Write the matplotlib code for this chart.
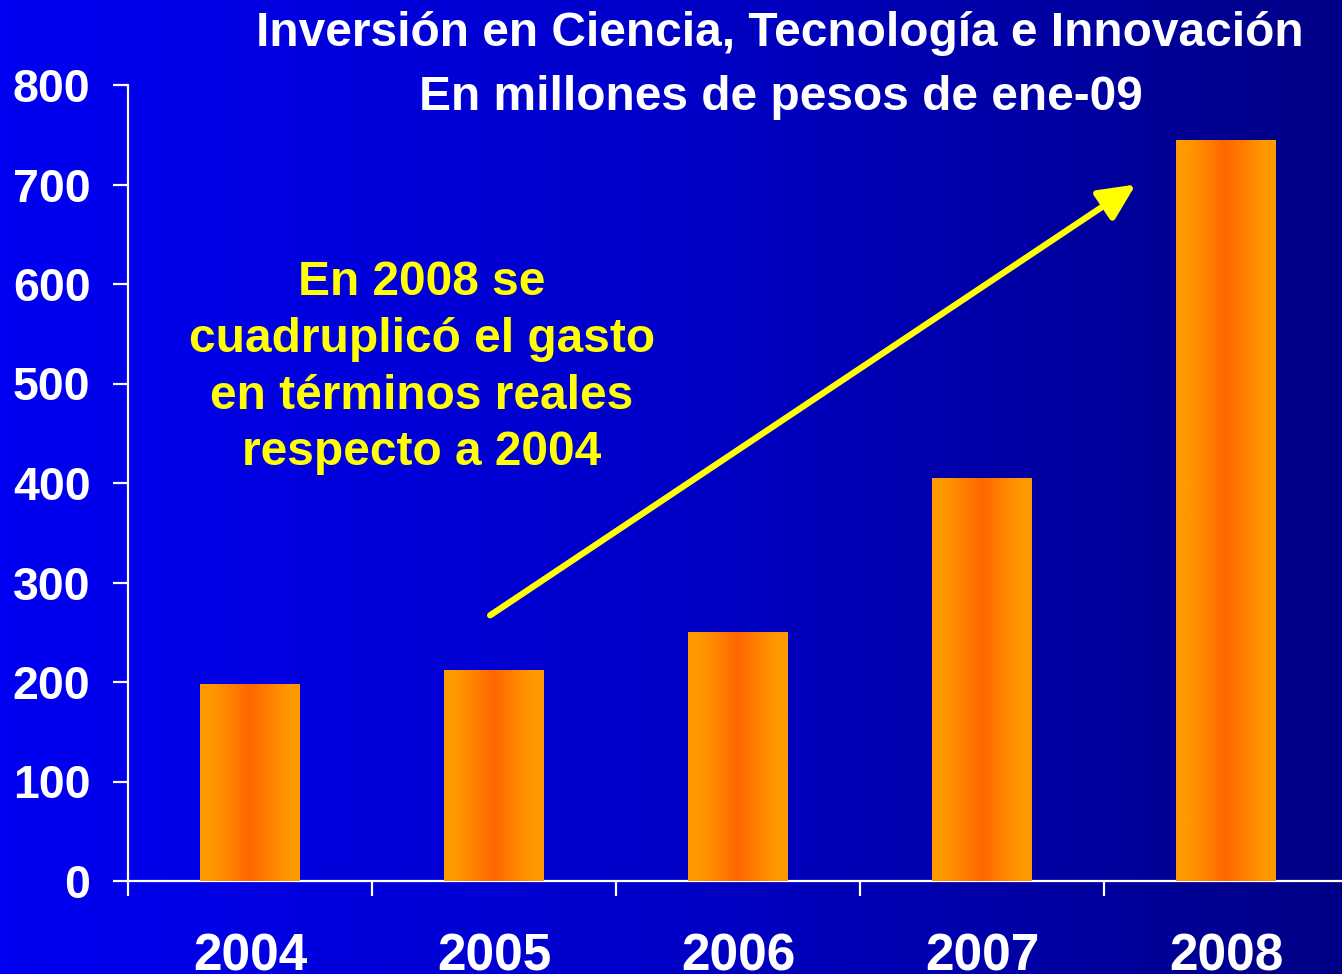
import numpy as np
import matplotlib
matplotlib.use("Agg")
import matplotlib.pyplot as plt
from matplotlib.colors import LinearSegmentedColormap

years = ["2004", "2005", "2006", "2007", "2008"]
values = [198, 212, 250, 405, 745]
yticks = [0, 100, 200, 300, 400, 500, 600, 700, 800]
title_lines = ["Inversión en Ciencia, Tecnología e Innovación", "En millones de pesos de ene-09"]
note = "En 2008 se\ncuadruplicó el gasto\nen términos reales\nrespecto a 2004"

plt.rcParams['font.family'] = ['Liberation Sans', 'DejaVu Sans']
plt.rcParams['font.weight'] = 'bold'

W, H = 1342, 974
fig = plt.figure(figsize=(W / 100, H / 100), dpi=100)

# background gradient
bg = fig.add_axes([0, 0, 1, 1], zorder=0)
bg_cmap = LinearSegmentedColormap.from_list("bg", ["#0000F2", "#0000C8", "#000086"])
bg.imshow(np.linspace(0, 1, 512)[None, :], aspect="auto", cmap=bg_cmap, extent=[0, 1, 0, 1])
bg.set_axis_off()

left = 128 / W
right = 1348 / W
bottom = 1 - 881 / H
top = 1 - 85 / H
ax = fig.add_axes([left, bottom, right - left, top - bottom], zorder=1)
ax.patch.set_alpha(0)

x = np.arange(len(years))
bars = ax.bar(x, values, width=100 / 244, color="#FF8800", zorder=2)

bar_cmap = LinearSegmentedColormap.from_list(
    "bar", [(0.0, "#FF9900"), (0.12, "#FF9900"), (0.5, "#FF6600"), (0.88, "#FF9900"), (1.0, "#FF9900")])
grad = np.linspace(0, 1, 256)[None, :]
for b in bars:
    im = ax.imshow(grad, aspect="auto", cmap=bar_cmap,
                   extent=[b.get_x(), b.get_x() + b.get_width(), 0, b.get_height()], zorder=3)
    im.set_clip_path(b)
ax.set_xlim(-0.5, len(years) - 0.5)
ax.set_ylim(0, 800)

for s in ["top", "right"]:
    ax.spines[s].set_visible(False)
for s in ["left", "bottom"]:
    ax.spines[s].set_color("white")
    ax.spines[s].set_linewidth(1.6)

ax.set_yticks(yticks)
ax.set_yticklabels([str(v) for v in yticks], fontsize=33.5, fontweight="bold", color="white")
ax.tick_params(axis="y", direction="out", length=11, width=1.6, color="white", pad=16)

ax.set_xticks(np.arange(-0.5, len(years) - 0.4, 1.0))
ax.set_xticklabels([])
ax.tick_params(axis="x", which="major", direction="out", length=11, width=1.6, color="white")
ax.set_xticks(x, minor=True)
ax.set_xticklabels(years, minor=True, fontsize=37, fontweight="bold", color="white")
ax.tick_params(axis="x", which="minor", length=0, pad=37)

fig.text(780 / W, 1 - 34 / H, title_lines[0], ha="center", va="center",
         fontsize=34.5, fontweight="bold", color="white")
fig.text(781 / W, 1 - 98 / H, title_lines[1], ha="center", va="center",
         fontsize=34.5, fontweight="bold", color="white")

ax.text(0.705, 516, note, ha="center", va="center", fontsize=34.5, fontweight="bold",
        color="#FFFF00", linespacing=1.34, zorder=5)

ax.annotate("", xy=(3.63, 700), xytext=(0.984, 267),
            arrowprops=dict(arrowstyle="-|>,head_length=2.2,head_width=1.05", color="#FFFF00",
                            lw=4.5, shrinkA=0, shrinkB=0), zorder=5)

fig.savefig("out.png", dpi=100)
